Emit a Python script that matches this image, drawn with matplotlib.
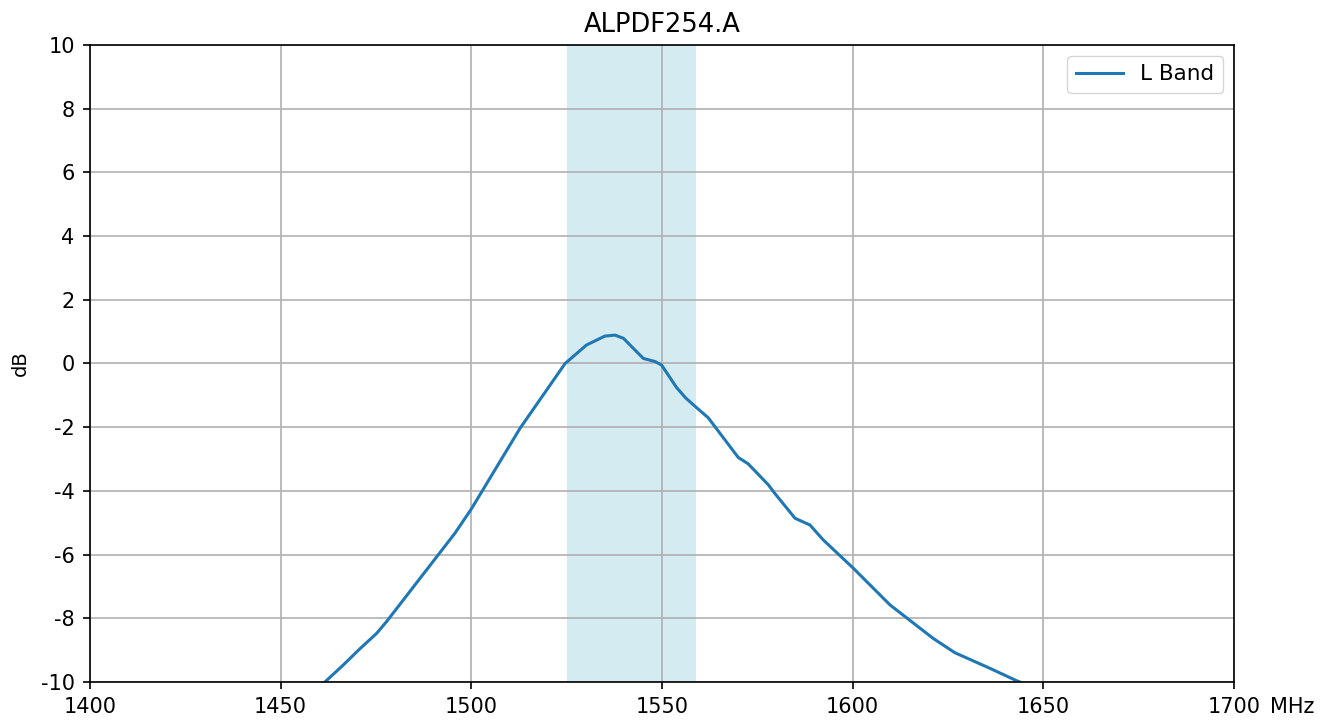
import matplotlib
matplotlib.use("Agg")
import matplotlib.pyplot as plt

plt.rcParams['axes.unicode_minus'] = False

# frequency (MHz) and gain (dB)
freq = [1458, 1461.6, 1466.4, 1470.4, 1475.2, 1477.8, 1495.7, 1500.1, 1512.8, 1524.6,
        1530.2, 1535.0, 1537.7, 1539.9, 1545.1, 1548.2, 1549.9, 1553.8, 1556.2,
        1559.3, 1562.1, 1570.0, 1572.6, 1577.9, 1579.6, 1584.9, 1588.8, 1592.3,
        1600.2, 1609.8, 1621.1, 1626.8, 1636.0, 1643.0, 1646]
gain = [-10.8, -10.0, -9.47, -9.0, -8.47, -8.1, -5.33, -4.55, -2.03, 0.0,
        0.58, 0.86, 0.89, 0.79, 0.16, 0.06, -0.05, -0.75, -1.08,
        -1.41, -1.70, -2.95, -3.15, -3.81, -4.08, -4.86, -5.07, -5.54,
        -6.43, -7.58, -8.63, -9.08, -9.57, -9.96, -10.1]
band = [1525, 1559]
xticks = [1400, 1450, 1500, 1550, 1600, 1650, 1700]
yticks = [-10, -8, -6, -4, -2, 0, 2, 4, 6, 8, 10]

fig = plt.figure(figsize=(13.29, 7.22), dpi=100)
ax = fig.add_axes([0.0677, 0.0554, 0.8608, 0.8823])
ax.axvspan(band[0], band[1], color="lightblue", alpha=0.5, lw=0)
ax.plot(freq, gain, color="#1f77b4", linewidth=2.2, label="L Band")
ax.set_xlim(1400, 1700)
ax.set_ylim(-10, 10)
ax.set_xticks(xticks)
ax.set_yticks(yticks)
ax.tick_params(labelsize=15, length=5, pad=6, width=1.2)
for s in ax.spines.values():
    s.set_linewidth(1.2)
ax.grid(True, color="#b0b0b0", linewidth=1.2)
ax.set_title("ALPDF254.A", fontsize=18.5, pad=9)
ax.set_ylabel("dB", fontsize=14, labelpad=8)
ax.annotate("MHz", xy=(1.0315, 0), xycoords="axes fraction", xytext=(0, -11),
            textcoords="offset points", fontsize=15, va="top", ha="left",
            annotation_clip=False)
ax.legend(loc="upper right", fontsize=15.5, handlelength=2.2)

fig.savefig("out.png", dpi=100)
